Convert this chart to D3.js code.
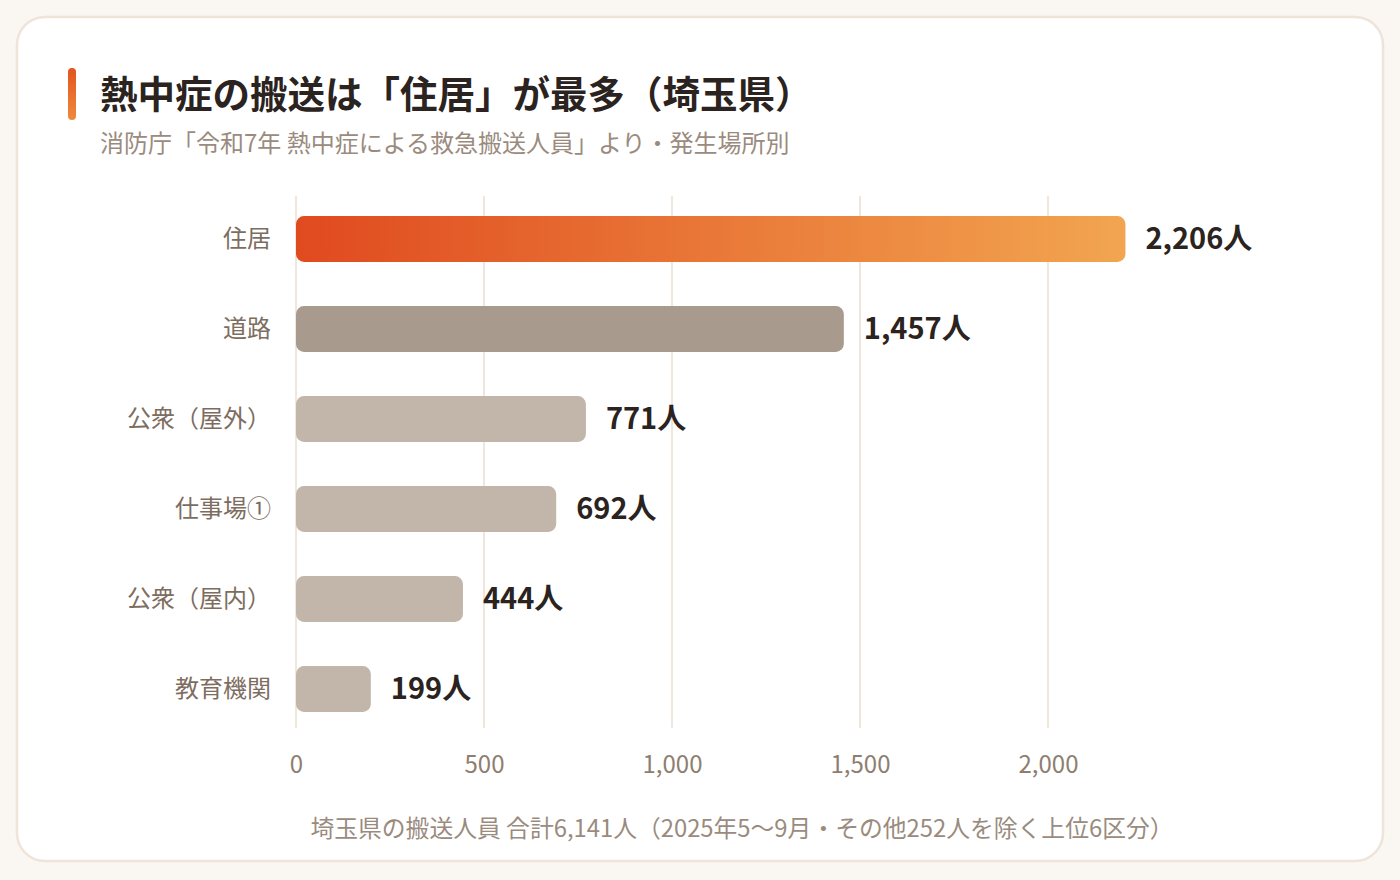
<!DOCTYPE html>
<html lang="ja">
<head>
<meta charset="utf-8">
<script src="https://cdn.jsdelivr.net/npm/d3@7"></script>
<style>
  html, body { margin: 0; padding: 0; background: #faf6f1; }
  body { width: 1400px; height: 880px; overflow: hidden; font-family: "Noto Sans CJK JP", "Noto Sans", sans-serif; }
</style>
</head>
<body>
<div id="chart"></div>
<script>
// 熱中症 救急搬送 発生場所別（埼玉県）

const categories = ["住居", "道路", "公衆（屋外）", "仕事場①", "公衆（屋内）", "教育機関"];
const values = [2206, 1457, 771, 692, 444, 199];
const tickValues = [0, 500, 1000, 1500, 2000];

const width = 1400,
    height = 880,
    margin = ({ top: 194, right: 164, bottom: 146, left: 296 });

const svg = d3.select("#chart")
  .append("svg")
  .attr("width", width)
  .attr("height", height)
  .attr("viewBox", [0, 0, width, height]);

const defs = svg.append("defs");

const grad = defs.append("linearGradient")
  .attr("id", "barGrad")
  .attr("x1", "0%").attr("x2", "100%")
  .attr("y1", "0%").attr("y2", "0%");
grad.append("stop").attr("offset", "0%").attr("stop-color", "#e04a1f");
grad.append("stop").attr("offset", "100%").attr("stop-color", "#f2a550");

const accent = defs.append("linearGradient")
  .attr("id", "accentGrad")
  .attr("x1", "0%").attr("x2", "0%")
  .attr("y1", "0%").attr("y2", "100%");
accent.append("stop").attr("offset", "0%").attr("stop-color", "#e2531f");
accent.append("stop").attr("offset", "100%").attr("stop-color", "#f08a3c");

// card
svg.append("rect")
  .attr("x", 17).attr("y", 17)
  .attr("width", 1366).attr("height", 844)
  .attr("rx", 28)
  .attr("fill", "#ffffff")
  .attr("stroke", "#eee4da")
  .attr("stroke-width", 2.5);

// title
svg.append("rect")
  .attr("x", 68).attr("y", 68)
  .attr("width", 8).attr("height", 52)
  .attr("rx", 4)
  .attr("fill", "url(#accentGrad)");

svg.append("text")
  .attr("x", 100).attr("y", 108)
  .attr("font-size", 37.5)
  .attr("font-weight", 700)
  .attr("fill", "#2b2320")
  .text("熱中症の搬送は「住居」が最多（埼玉県）");

svg.append("text")
  .attr("x", 100).attr("y", 152)
  .attr("font-size", 24)
  .attr("fill", "#9a8b7e")
  .text("消防庁「令和7年 熱中症による救急搬送人員」より・発生場所別");

const x = d3.scaleLinear()
  .domain([0, 2500])
  .range([margin.left, width - margin.right]);

const y = d3.scaleBand()
  .domain(categories)
  .range([margin.top, height - margin.bottom])
  .paddingInner(0.49)
  .paddingOuter(0.245);

// grid
svg.append("g")
  .selectAll("line")
  .data(tickValues)
  .join("line")
  .attr("x1", d => x(d))
  .attr("x2", d => x(d))
  .attr("y1", 196)
  .attr("y2", 728)
  .attr("stroke", "#efe6dc")
  .attr("stroke-width", 2);

// x axis labels
const xAxis = svg.append("g")
  .attr("transform", `translate(0,${height - margin.bottom})`)
  .call(d3.axisBottom(x).tickValues(tickValues).tickSize(0).tickPadding(22).tickFormat(d3.format(",")));
xAxis.select(".domain").remove();
xAxis.selectAll("text")
  .attr("font-family", "'Noto Sans CJK JP', sans-serif")
  .attr("font-size", 24)
  .attr("fill", "#8e7e70");

// y axis labels
const yAxis = svg.append("g")
  .attr("transform", `translate(${margin.left},0)`)
  .call(d3.axisLeft(y).tickSize(0).tickPadding(25));
yAxis.select(".domain").remove();
yAxis.selectAll("text")
  .attr("font-family", "'Noto Sans CJK JP', sans-serif")
  .attr("font-size", 24)
  .attr("fill", "#7d6d60");

const data = categories.map((c, i) => ({ name: c, value: values[i] }));

svg.append("g")
  .selectAll("rect")
  .data(data)
  .join("rect")
  .attr("x", x(0))
  .attr("y", d => y(d.name))
  .attr("width", d => x(d.value) - x(0))
  .attr("height", y.bandwidth())
  .attr("rx", 8)
  .attr("fill", (d, i) => i === 0 ? "url(#barGrad)" : i === 1 ? "#a89a8c" : "#c2b5a9");

svg.append("g")
  .selectAll("text")
  .data(data)
  .join("text")
  .attr("x", d => x(d.value) + 20)
  .attr("y", d => y(d.name) + y.bandwidth() / 2)
  .attr("dy", "0.35em")
  .attr("font-size", 29)
  .attr("font-weight", 700)
  .attr("fill", "#2b2320")
  .text(d => d3.format(",")(d.value) + "人");

// footnote
svg.append("text")
  .attr("x", 742).attr("y", 837)
  .attr("text-anchor", "middle")
  .attr("font-size", 23.8)
  .attr("fill", "#9a8b7e")
  .text("埼玉県の搬送人員 合計6,141人（2025年5〜9月・その他252人を除く上位6区分）");
</script>
</body>
</html>
